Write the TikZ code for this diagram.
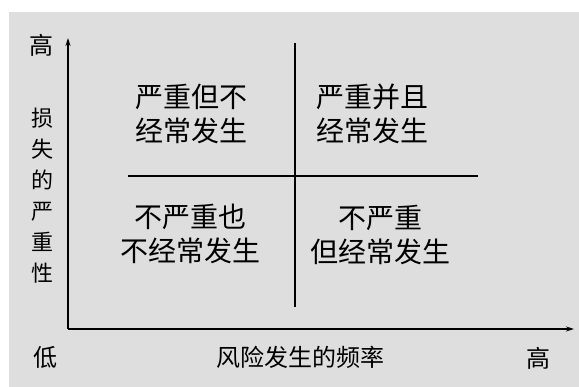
\documentclass[tikz,border=0pt]{standalone}
\usepackage{fontspec}
\newfontfamily\cjk{Noto Sans CJK SC}
\usetikzlibrary{arrows.meta}
\begin{document}
\begin{tikzpicture}[x=1pt,y=-1pt,
  axis/.style={line width=1.3pt,-{Stealth[length=8pt,width=5pt]}},
  divider/.style={line width=1.3pt},
  quad/.style={font=\cjk\fontsize{28}{34}\selectfont,align=center,inner sep=0pt},
  lab/.style={font=\cjk\fontsize{24}{24}\selectfont,inner sep=0pt},
  vlab/.style={font=\cjk\fontsize{22}{31}\selectfont,align=center,inner sep=0pt}]
\useasboundingbox (0,0) rectangle (579,387);
\fill[white] (0,0) rectangle (579,387);
\fill[black!13] (9,12) rectangle (579,387);
\coordinate (O) at (68,329);
\coordinate (Ytop) at (68,38);
\coordinate (Xend) at (574,329);
\coordinate (Vtop) at (295,43);
\coordinate (Vbot) at (295,307);
\coordinate (Hleft) at (128,176);
\coordinate (Hright) at (478,176);
\draw[axis] (O) -- (Ytop);
\draw[axis] (O) -- (Xend);
\draw[divider] (Vtop) -- (Vbot);
\draw[divider] (Hleft) -- (Hright);
\node[lab] (hiY) at (42,45) {高};
\node[vlab] (ylab) at (42,196) {损\\失\\的\\严\\重\\性};
\node[lab] (lo) at (45,357) {低};
\node[lab] (xlab) at (300,357) {风险发生的频率};
\node[lab] (hiX) at (538,358) {高};
\node[quad] (q1) at (191,114) {严重但不\\经常发生};
\node[quad] (q2) at (372,114) {严重并且\\经常发生};
\node[quad] (q3) at (190,234) {不严重也\\不经常发生};
\node[quad] (q4) at (380,235) {不严重\\但经常发生};
\end{tikzpicture}
\end{document}
